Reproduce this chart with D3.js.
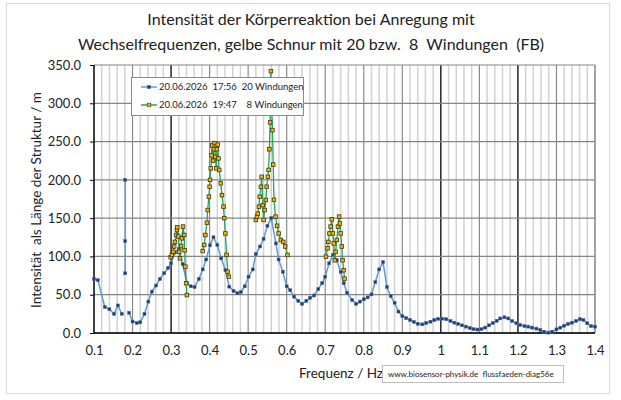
<!DOCTYPE html>
<html lang="de">
<head>
<meta charset="utf-8">
<script src="https://d3js.org/d3.v7.min.js"></script>
<style>
body { margin: 0; background: #fff; font-family: Lato, 'Open Sans', sans-serif; }
svg { display: block; }
text { fill: #222; }
.title { font-size: 16px; }
.tick text { font-size: 13px; font-family: Lato, sans-serif; fill: #222; }
.domain { display: none; }
.axislabel { font-size: 13.5px; }
.legend text { font-size: 9.5px; }
.stamp { font-size: 8px; }
</style>
</head>
<body>
<svg id="chart" width="621" height="400"></svg>
<script>
// 20 Windungen (17:56)
const freq20 = [0.100,0.110,0.128,0.140,0.152,0.162,0.172,null,0.181,0.181,0.181,null,
  0.191,0.200,0.211,0.220,0.231,0.241,0.250,0.261,0.271,0.282,0.292,0.300,0.310,0.320,0.330,
  0.341,0.351,0.361,0.372,0.382,0.391,0.401,0.410,0.420,0.430,0.441,0.451,0.462,0.472,0.481,
  0.491,0.501,0.512,0.520,0.531,0.540,0.550,0.560,0.572,0.579,0.590,0.600,0.609,0.619,0.630,
  0.640,0.651,0.661,0.671,0.682,0.692,0.700,0.710,0.720,0.730,0.740,0.748,0.757,0.770,0.780,
  0.790,0.800,0.810,0.820,0.830,0.840,0.850,0.860,0.870,0.880,0.890,0.900,0.910,0.920,0.930,
  0.940,0.952,0.962,0.973,0.983,0.993,1.003,1.014,1.025,1.035,1.045,1.055,1.065,1.075,1.085,
  1.095,1.105,1.115,1.125,1.135,1.145,1.154,1.165,1.175,1.185,1.196,1.206,1.217,1.227,1.237,
  1.248,1.258,1.268,1.279,1.289,1.300,1.310,1.320,1.330,1.340,1.351,1.361,1.370,1.380,1.390,1.400];
const int20 = [70.5,69,34,31,25,36,25,null,200,120,78,null,
  26.5,15,13,14,25,41,54,62,70.5,78,85,91,105,110,90,
  65,61,60,70.5,83,96,114.5,125,115,97.5,82,60.5,55,52,53.5,
  61,73.5,83,103,113,123,140,150,117,96,80,61,56,47.5,42,
  38,42,46,49,57.5,65,73.5,91,102,95,80,65,52.5,43,38,
  41,44,46.5,50.5,66.5,83,92.5,60,48,39.5,28,22,19.5,17,14.5,
  12,11.3,13,14.8,17,18.3,18.7,18,15.7,13.5,11.8,10,8.3,6.5,5,
  4.5,5,7,10,13,16,19,20.5,19,15.7,12.7,10.5,9,8.3,7,
  5.7,4,1.7,0.5,1.7,4.8,7,9.5,11.8,13.5,15.7,18,17,12.7,9,8.3];

// 8 Windungen (19:47), only around the resonances
const freq8 = [0.299,0.302,0.306,0.308,0.310,0.313,0.315,0.316,0.319,0.321,0.323,0.326,0.328,0.331,0.334,0.335,0.337,0.339,0.341,null,
  0.382,0.386,0.389,0.393,0.395,0.398,0.400,0.401,0.403,0.405,0.407,0.409,0.411,0.413,0.415,0.417,0.419,0.421,0.423,0.425,0.429,0.432,0.436,0.438,0.441,0.444,0.447,0.450,null,
  0.520,0.523,0.525,0.528,0.530,0.533,0.535,0.538,0.540,0.543,0.546,0.548,0.551,0.553,0.555,0.557,0.559,0.561,0.563,0.565,0.567,0.571,0.575,0.579,0.585,0.591,0.596,0.602,null,
  0.702,0.706,0.708,0.711,0.714,0.717,0.720,0.722,0.725,0.727,0.730,0.733,0.736,0.738,0.740,0.743,0.745,0.748,0.750];
const int8 = [99,102,106,113,119,128,134.5,138,126,106,97.5,113.6,123.7,139,128,108,86.6,65,49.6,null,
  107,115,128,144,160.6,178,191,200,215,232,245,225,240,248,230,215,240,246,228,213,195.5,180,165,150,130,102,80,73.5,null,
  147.6,152,156,165,178,191,204,167,147.6,160.6,173.7,191,204,213,240,275,342,300,265,220,174,152,140,130,121.5,119,113,102,null,
  99.7,110.6,119,130,139,148.5,130,117,95,106,121.5,139,152,143,130,113,95,82,71];

const xTicks = [0.1,0.2,0.3,0.4,0.5,0.6,0.7,0.8,0.9,1.0,1.1,1.2,1.3,1.4];
const xTickLabels = ['0.1','0.2','0.3','0.4','0.5','0.6','0.7','0.8','0.9','1','1.1','1.2','1.3','1.4'];
const yTicks = [0,50,100,150,200,250,300,350];
const blackLines = [0.3,1.0,1.2];
const legendLabels = ['20.06.2026  17:56  20 Windungen', '20.06.2026  19:47    8 Windungen'];

const svg = d3.select('#chart');
const plotLeft = 94, plotRight = 595, plotTop = 65, plotBottom = 333;

const x = d3.scaleLinear().domain([0.1, 1.4]).range([plotLeft, plotRight]);
const y = d3.scaleLinear().domain([0, 350]).range([plotBottom, plotTop]);

// outer frame
svg.append('rect')
  .attr('x', 6.5).attr('y', 3.5).attr('width', 603).attr('height', 390)
  .attr('fill', '#fff').attr('stroke', '#d9d9d9');

// title
svg.append('text').attr('class', 'title')
  .attr('x', 311).attr('y', 25).attr('text-anchor', 'middle')
  .text('Intensität der Körperreaktion bei Anregung mit');
svg.append('text').attr('class', 'title')
  .attr('x', 311).attr('y', 50).attr('text-anchor', 'middle')
  .style('white-space', 'pre')
  .text('Wechselfrequenzen, gelbe Schnur mit 20 bzw.  8  Windungen  (FB)');

// grid
const minor = d3.range(0, 66).map(i => 0.1 + i * 0.02).filter(v => Math.round(v * 100) % 10 !== 0);
svg.append('g').selectAll('line').data(minor).join('line')
  .attr('x1', d => x(d)).attr('x2', d => x(d)).attr('y1', plotTop).attr('y2', plotBottom)
  .attr('stroke', '#d2d2d2').attr('stroke-width', 1.5);
svg.append('g').selectAll('line').data(xTicks).join('line')
  .attr('x1', d => x(d)).attr('x2', d => x(d)).attr('y1', plotTop).attr('y2', plotBottom)
  .attr('stroke', d => blackLines.includes(d) ? '#000' : '#8a8a8a')
  .attr('stroke-width', d => blackLines.includes(d) ? 1.3 : 1.2);
svg.append('g').selectAll('line').data(yTicks).join('line')
  .attr('x1', plotLeft).attr('x2', plotRight).attr('y1', d => y(d)).attr('y2', d => y(d))
  .attr('stroke', '#858585').attr('stroke-width', 1.2);
svg.append('line').attr('x1', plotRight).attr('x2', plotRight).attr('y1', plotTop).attr('y2', plotBottom)
  .attr('stroke', '#8a8a8a');

// axes
svg.append('g')
  .attr('transform', `translate(0, ${plotBottom})`)
  .call(d3.axisBottom(x).tickValues(xTicks).tickSize(0).tickPadding(13)
    .tickFormat((d, i) => xTickLabels[i]));
const yAxis = svg.append('g')
  .attr('transform', `translate(${plotLeft}, 0)`)
  .call(d3.axisLeft(y).tickValues(yTicks).tickSize(4).tickPadding(9)
    .tickFormat(d3.format('.1f')));
yAxis.selectAll('.tick line').attr('stroke', '#000');
svg.append('line').attr('x1', plotLeft).attr('x2', plotLeft).attr('y1', plotTop).attr('y2', plotBottom + 0.5)
  .attr('stroke', '#000').attr('stroke-width', 1.3);
svg.append('line').attr('x1', plotLeft).attr('x2', plotRight).attr('y1', plotBottom).attr('y2', plotBottom)
  .attr('stroke', '#000').attr('stroke-width', 1.3);

// axis titles
svg.append('text').attr('class', 'axislabel')
  .attr('transform', 'translate(41, 200) rotate(-90)')
  .attr('text-anchor', 'middle')
  .style('white-space', 'pre')
  .text('Intensität  als Länge der Struktur / m');
svg.append('text').attr('class', 'axislabel')
  .attr('x', 341).attr('y', 378).attr('text-anchor', 'middle')
  .text('Frequenz / Hz');

// series
const pts20 = freq20.map((f, i) => ({f: f, v: int20[i]}));
const pts8 = freq8.map((f, i) => ({f: f, v: int8[i]}));
const line = d3.line().defined(d => d.f !== null).x(d => x(d.f)).y(d => y(d.v));

svg.append('path').datum(pts20)
  .attr('d', line).attr('fill', 'none')
  .attr('stroke', '#5b9bd5').attr('stroke-width', 1.5);
svg.append('g').selectAll('rect').data(pts20.filter(d => d.f !== null)).join('rect')
  .attr('x', d => x(d.f) - 1.5).attr('y', d => y(d.v) - 1.5)
  .attr('width', 3).attr('height', 3)
  .attr('fill', '#1f3b6b').attr('stroke', '#4a6fa5').attr('stroke-width', 0.5);

svg.append('path').datum(pts8)
  .attr('d', line).attr('fill', 'none')
  .attr('stroke', '#23a55a').attr('stroke-width', 1.3);
svg.append('g').selectAll('rect').data(pts8.filter(d => d.f !== null)).join('rect')
  .attr('x', d => x(d.f) - 1.8).attr('y', d => y(d.v) - 1.8)
  .attr('width', 3.6).attr('height', 3.6)
  .attr('fill', '#f2b600').attr('stroke', '#3d3520').attr('stroke-width', 0.8);

// legend
const legend = svg.append('g').attr('class', 'legend');
legend.append('rect')
  .attr('x', 131.5).attr('y', 77.5).attr('width', 172).attr('height', 38)
  .attr('fill', '#fff').attr('stroke', '#8a8a8a');
const rows = [
  {y: 87, stroke: '#5b9bd5', fill: '#1f3b6b', mstroke: '#4a6fa5', size: 3.2},
  {y: 105, stroke: '#23a55a', fill: '#f2b600', mstroke: '#3d3520', size: 3.6}
];
rows.forEach((r, i) => {
  legend.append('line').attr('x1', 141).attr('x2', 157).attr('y1', r.y).attr('y2', r.y)
    .attr('stroke', r.stroke).attr('stroke-width', 1.5);
  legend.append('rect').attr('x', 149 - r.size / 2).attr('y', r.y - r.size / 2)
    .attr('width', r.size).attr('height', r.size)
    .attr('fill', r.fill).attr('stroke', r.mstroke).attr('stroke-width', 0.6);
  legend.append('text').attr('x', 159).attr('y', r.y + 3.3)
    .style('white-space', 'pre').text(legendLabels[i]);
});

// stamp
svg.append('rect')
  .attr('x', 382.5).attr('y', 365.5).attr('width', 181).attr('height', 17)
  .attr('fill', '#fff').attr('stroke', '#bfbfbf');
svg.append('text').attr('class', 'stamp')
  .attr('x', 388).attr('y', 377)
  .style('white-space', 'pre')
  .text('www.biosensor-physik.de  flussfaeden-diag56e');
</script>
</body>
</html>
